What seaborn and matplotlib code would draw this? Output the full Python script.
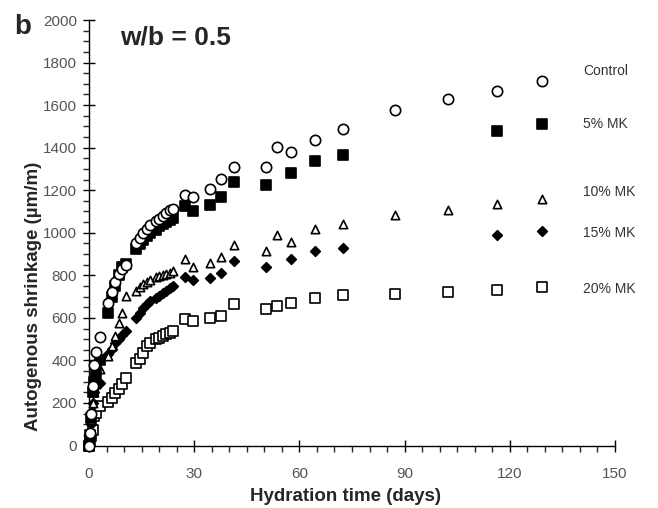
#!/usr/bin/env python3
"""
Autogenous shrinkage vs hydration time, w/b = 0.5 (panel b)
"""

import numpy as np
import pandas as pd
import matplotlib
matplotlib.use('Agg')
import matplotlib.pyplot as plt
import seaborn as sns
from matplotlib.ticker import MultipleLocator

sns.set_style("ticks")
plt.rcParams['font.family'] = ['Liberation Sans', 'DejaVu Sans']

nan = np.nan

# measurement ages (days)
days = [0, 0.25, 0.5, 1, 1.5, 2, 3, 5.5, 6.5, 7.5, 8.5, 9.5, 10.5,
        13.5, 14.5, 15.5, 16.5, 17.5, 19, 20, 21, 22, 23, 24,
        27.4, 29.7, 34.5, 37.5, 41.3, 50.4, 53.5, 57.5, 64.4, 72.3,
        87.3, 102.3, 116.2, 129.2]

# autogenous shrinkage (um/m)
control = [0, 60, 150, 280, 380, 440, 510, 672, 720, 770, 805, 830, 850,
           950, 975, 1000, 1016, 1035, 1055, 1064, 1080, 1095, 1105, 1111,
           1176, 1166, 1205, 1252, 1307, 1311, 1401, 1380, 1437, 1487,
           1576, 1628, 1667, 1714]
mk5 = [0, 50, 130, 250, 300, 340, 400, 624, 700, 750, 800, 840, 855,
       925, 945, 965, 985, 1000, 1015, 1030, 1040, 1050, 1060, 1070,
       1126, 1103, 1129, 1166, 1239, 1224, nan, 1279, 1335, 1366,
       nan, nan, 1479, 1511]
mk10 = [0, 50, 120, 200, 250, 290, 358, 420, 467, 514, 577, 624, 703,
        726, 745, 760, 770, 780, 790, 797, 803, 808, 813, 820,
        875, 841, 860, 888, 943, 914, 990, 958, 1016, 1040,
        1082, 1106, 1134, 1158]
mk15 = [0, 40, 100, 200, 250, 280, 295, 430, 455, 480, 500, 520, 538,
        601, 625, 645, 665, 679, 695, 705, 718, 728, 742, 748,
        794, 776, 786, 813, 867, 841, nan, 879, 914, 927,
        nan, nan, 988, 1008]
mk20 = [0, 20, 45, 75, 138, 154, 185, 205, 224, 248, 267, 287, 319,
        389, 408, 436, 467, 480, 499, 505, 514, 522, 530, 540,
        593, 585, 601, 609, 664, 640, 656, 668, 695, 706,
        714, 722, 731, 747]

mixes = ['Control', '5% MK', '10% MK', '15% MK', '20% MK']
label_y = [1760, 1511, 1191, 998, 734]

df = pd.DataFrame({'day': days * 5,
                   'shrinkage': control + mk5 + mk10 + mk15 + mk20,
                   'mix': np.repeat(mixes, len(days))})

styles = {
    'Control': dict(marker='o', s=55, facecolor='white'),
    '5% MK': dict(marker='s', s=46, facecolor='black'),
    '10% MK': dict(marker='^', s=36, facecolor='white'),
    '15% MK': dict(marker='D', s=24, facecolor='black'),
    '20% MK': dict(marker='s', s=46, facecolor='white'),
}


def main():
    fig = plt.figure(figsize=(6.58, 5.08), dpi=100)
    ax = fig.add_axes([0.1353, 0.123, 0.7994, 0.8376])

    for mix in mixes[::-1]:
        st = styles[mix]
        sub = df[df['mix'] == mix]
        sns.scatterplot(data=sub, x='day', y='shrinkage', ax=ax,
                        marker=st['marker'], s=st['s'],
                        color=st['facecolor'], edgecolor='black',
                        linewidth=1.2, clip_on=False, zorder=3)

    for mix, yl in zip(mixes, label_y):
        ax.text(141, yl, mix, fontsize=10, color='#333333',
                va='center', ha='left')

    ax.text(0.059, 0.96, 'w/b = 0.5', transform=ax.transAxes,
            fontsize=19, fontweight='bold', va='center', ha='left')
    fig.text(0.022, 0.947, 'b', fontsize=20, fontweight='bold',
             va='center', ha='left')

    ax.set_xlim(0, 150)
    ax.set_ylim(0, 2000)
    ax.xaxis.set_major_locator(MultipleLocator(30))
    ax.xaxis.set_minor_locator(MultipleLocator(5))
    ax.yaxis.set_major_locator(MultipleLocator(200))
    ax.yaxis.set_minor_locator(MultipleLocator(50))

    ax.tick_params(which='major', direction='inout', length=9, width=1,
                   colors='black', labelcolor='#555555', labelsize=11)
    ax.tick_params(which='minor', direction='out', length=4, width=1)
    ax.tick_params(axis='x', which='major', pad=11)
    ax.tick_params(axis='y', which='major', pad=4)

    for side in ['top', 'right']:
        ax.spines[side].set_visible(False)
    for side in ['left', 'bottom']:
        ax.spines[side].set_linewidth(1)
        ax.spines[side].set_color('black')

    ax.set_xlabel('Hydration time (days)', fontsize=13.5, fontweight='bold',
                  labelpad=5)
    ax.xaxis.label.set_x(0.487)
    ax.set_ylabel('Autogenous shrinkage (\u00b5m/m)', fontsize=13.5,
                  fontweight='bold', labelpad=2)
    ax.yaxis.set_label_coords(-0.09, 0.351)
    if ax.get_legend():
        ax.get_legend().remove()

    fig.savefig('out.png', dpi=100)


if __name__ == '__main__':
    main()
